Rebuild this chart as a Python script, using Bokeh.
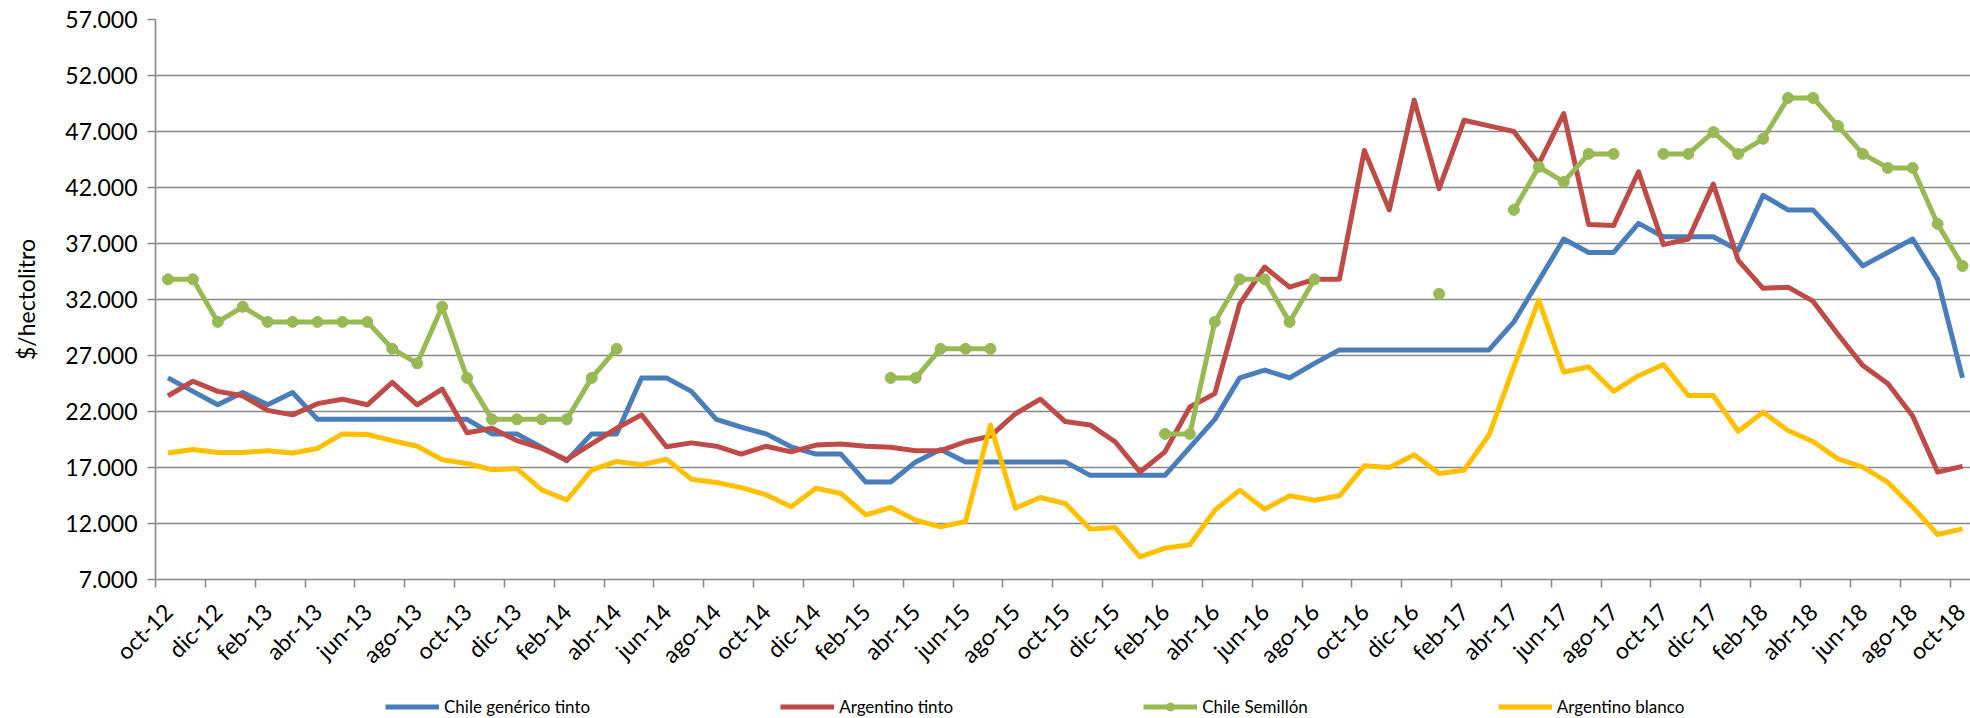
import math
import numpy as np
from bokeh.plotting import figure
from bokeh.layouts import column
from bokeh.models import (LinearAxis, FixedTicker, Range1d, Legend, LegendItem,
                          ColumnDataSource)
from bokeh.embed import file_html
from bokeh.resources import INLINE

nan = np.nan

months = [
    "oct-12", "nov-12", "dic-12",
    "ene-13", "feb-13", "mar-13", "abr-13", "may-13", "jun-13", "jul-13", "ago-13", "sep-13", "oct-13", "nov-13", "dic-13",
    "ene-14", "feb-14", "mar-14", "abr-14", "may-14", "jun-14", "jul-14", "ago-14", "sep-14", "oct-14", "nov-14", "dic-14",
    "ene-15", "feb-15", "mar-15", "abr-15", "may-15", "jun-15", "jul-15", "ago-15", "sep-15", "oct-15", "nov-15", "dic-15",
    "ene-16", "feb-16", "mar-16", "abr-16", "may-16", "jun-16", "jul-16", "ago-16", "sep-16", "oct-16", "nov-16", "dic-16",
    "ene-17", "feb-17", "mar-17", "abr-17", "may-17", "jun-17", "jul-17", "ago-17", "sep-17", "oct-17", "nov-17", "dic-17",
    "ene-18", "feb-18", "mar-18", "abr-18", "may-18", "jun-18", "jul-18", "ago-18", "sep-18", "oct-18",
]

chile_generico_tinto = [
    25000, 23800, 22600, 23700, 22600, 23700, 21300, 21300, 21300, 21300,
    21300, 21300, 21300, 20000, 20000, 18800, 17600, 20000, 20000, 25000,
    25000, 23800, 21300, 20600, 20000, 18850, 18200, 18200, 15700, 15700,
    17500, 18600, 17500, 17500, 17500, 17500, 17500, 16300, 16300, 16300,
    16300, 18800, 21300, 25000, 25700, 25000, 26300, 27500, 27500, 27500,
    27500, 27500, 27500, 27500, 30000, 33700, 37400, 36200, 36200, 38800,
    37600, 37600, 37600, 36400, 41300, 40000, 40000, 37600, 35000, 36200,
    37400, 33800, 25000,
]

argentino_tinto = [
    23400, 24700, 23800, 23400, 22100, 21700, 22700, 23100, 22600, 24600,
    22600, 24000, 20100, 20500, 19400, 18700, 17700, 19100, 20500, 21700,
    18850, 19200, 18900, 18200, 18900, 18400, 19000, 19100, 18900, 18800,
    18500, 18500, 19300, 19800, 21800, 23100, 21100, 20800, 19300, 16600,
    18400, 22400, 23600, 31600, 34900, 33100, 33800, 33800, 45300, 40000,
    49800, 41900, 48000, 47500, 47000, 44100, 48600, 38700, 38600, 43400,
    36900, 37400, 42300, 35500, 33000, 33100, 31850, 28900, 26100, 24500,
    21600, 16600, 17100,
]

chile_semillon = [
    33800, 33800, 30000, 31350, 30000, 30000, 30000, 30000, 30000, 27600,
    26300, 31350, 25000, 21300, 21300, 21300, 21300, 25000, 27600, nan,
    nan, nan, nan, nan, nan, nan, nan, nan, nan, 25000,
    25000, 27600, 27600, 27600, nan, nan, nan, nan, nan, nan,
    20000, 20000, 30000, 33800, 33800, 30000, 33800, nan, nan, nan,
    nan, 32500, nan, nan, 40000, 43850, 42500, 45000, 45000, nan,
    45000, 45000, 46950, 45000, 46350, 50000, 50000, 47500, 45000, 43750,
    43750, 38750, 35000,
]

argentino_blanco = [
    18300, 18600, 18330, 18330, 18500, 18300, 18700, 20000, 19950, 19400,
    18900, 17700, 17360, 16800, 16900, 15000, 14100, 16760, 17540, 17240,
    17740, 15960, 15660, 15200, 14560, 13490, 15150, 14680, 12770, 13430,
    12300, 11700, 12180, 20800, 13370, 14320, 13790, 11500, 11640, 9020,
    9800, 10100, 13190, 14980, 13280, 14470, 14080, 14470, 17150, 17000,
    18130, 16460, 16760, 19900, 26000, 31940, 25500, 26000, 23800, 25200,
    26200, 23430, 23430, 20240, 21940, 20300, 19320, 17770, 17030, 15690,
    13460, 11020, 11520,
]

series_names = ["Chile genérico tinto", "Argentino tinto", "Chile Semillón", "Argentino blanco"]
series_colors = ["#4A7EBB", "#BE4B48", "#98B954", "#FFC000"]

y_ticks = [7000, 12000, 17000, 22000, 27000, 32000, 37000, 42000, 47000, 52000, 57000]
y_tick_labels = ["7.000", "12.000", "17.000", "22.000", "27.000", "32.000",
                 "37.000", "42.000", "47.000", "52.000", "57.000"]
y_axis_title = "$/hectolitro"

FONT = "Lato"
GRID = "#878787"
TEXT = "#000000"
LW = 5
MS = 11

n = len(months)
src = ColumnDataSource(dict(
    x=list(range(n)),
    cg=chile_generico_tinto,
    at=argentino_tinto,
    cs=chile_semillon,
    ab=argentino_blanco,
))

xr = Range1d(-0.5, n - 0.68)

p = figure(width=1970, height=694, output_backend="svg", toolbar_location=None,
           x_range=xr, y_range=Range1d(y_ticks[0], y_ticks[-1]),
           x_axis_location=None, y_axis_location="left",
           min_border_left=155, min_border_top=19, min_border_right=0,
           min_border_bottom=115)
p.outline_line_color = None
p.background_fill_color = "white"
p.border_fill_color = "white"

p.xgrid.visible = False
p.ygrid.ticker = FixedTicker(ticks=y_ticks)
p.ygrid.grid_line_color = GRID
p.ygrid.grid_line_width = 1.6

ya = p.yaxis[0]
ya.ticker = FixedTicker(ticks=y_ticks)
ya.major_label_overrides = {t: l for t, l in zip(y_ticks, y_tick_labels)}
ya.axis_line_color = GRID
ya.axis_line_width = 1.6
ya.major_tick_line_color = GRID
ya.major_tick_line_width = 1.6
ya.major_tick_out = 8
ya.major_tick_in = 0
ya.minor_tick_line_color = None
ya.major_label_text_font = FONT
ya.major_label_text_font_size = "23px"
ya.major_label_text_color = TEXT
ya.major_label_standoff = 10
ya.axis_label = y_axis_title
ya.axis_label_text_font = FONT
ya.axis_label_text_font_size = "23px"
ya.axis_label_text_font_style = "normal"
ya.axis_label_text_color = TEXT
ya.axis_label_standoff = 22

# tick marks at category boundaries
bounds = [k - 0.5 for k in range(0, n, 2)]
ax_ticks = LinearAxis(ticker=FixedTicker(ticks=bounds),
                      major_label_overrides={b: "" for b in bounds},
                      major_label_text_font_size="1px",
                      major_label_standoff=0,
                      axis_line_color=GRID, axis_line_width=1.6,
                      major_tick_line_color=GRID, major_tick_line_width=1.6,
                      major_tick_out=8, major_tick_in=0,
                      minor_tick_line_color=None)
p.add_layout(ax_ticks, "below")

label_pos = list(range(0, n, 2))
ax_labels = LinearAxis(ticker=FixedTicker(ticks=label_pos),
                       major_label_overrides={i: months[i] for i in label_pos},
                       major_label_orientation=math.pi / 4,
                       major_label_text_font=FONT,
                       major_label_text_font_size="23px",
                       major_label_text_color=TEXT,
                       major_label_standoff=20,
                       axis_line_color=None,
                       major_tick_line_color=None, major_tick_out=0, major_tick_in=0,
                       minor_tick_line_color=None)
p.add_layout(ax_labels, "below")


def draw_series(fig):
    r1 = fig.line("x", "cg", source=src, line_color=series_colors[0], line_width=LW, line_join="round")
    r2 = fig.line("x", "at", source=src, line_color=series_colors[1], line_width=LW, line_join="round")
    r3 = fig.line("x", "cs", source=src, line_color=series_colors[2], line_width=LW, line_join="round")
    r3m = fig.scatter("x", "cs", source=src, marker="circle", size=MS,
                      fill_color=series_colors[2], line_color=series_colors[2])
    r4 = fig.line("x", "ab", source=src, line_color=series_colors[3], line_width=LW, line_join="round")
    return [[r1], [r2], [r3, r3m], [r4]]


draw_series(p)

# legend strip below the chart (same series; its value range keeps the lines out of view)
pl = figure(width=1970, height=24, output_backend="svg", toolbar_location=None,
            x_range=xr, y_range=Range1d(0, 1),
            x_axis_location=None, y_axis_location=None,
            min_border_left=0, min_border_right=0, min_border_top=0, min_border_bottom=0)
pl.outline_line_color = None
pl.xgrid.visible = False
pl.ygrid.visible = False
leg_renderers = draw_series(pl)

legend = Legend(items=[LegendItem(label=nm, renderers=rs)
                       for nm, rs in zip(series_names, leg_renderers)],
                location="left", orientation="horizontal", spacing=190,
                glyph_width=54, glyph_height=20, label_standoff=5, padding=0, margin=230,
                border_line_color=None, background_fill_alpha=0,
                label_text_font=FONT, label_text_font_size="17px", label_text_color=TEXT)
pl.add_layout(legend, "center")

layout = column(p, pl, spacing=0)
open("out.html", "w").write(file_html(layout, INLINE))
